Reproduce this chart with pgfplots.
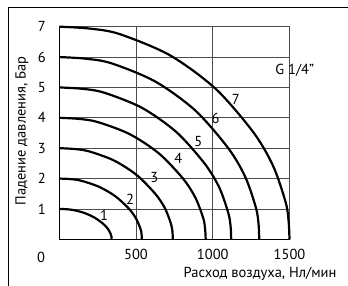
\documentclass[border=0pt]{standalone}
\usepackage{pgfplots}
\pgfplotsset{compat=1.18}
\usepackage{fontspec}
\setmainfont{PT Sans}
\begin{document}
\begin{tikzpicture}[font=\fontsize{14.5}{17}\selectfont]
\path[use as bounding box] (0,0) rectangle (348pt,286pt);
\draw[line width=1.1pt,black] (8.3pt,0pt) -- (8.3pt,278.7pt) -- (348pt,278.7pt);
\begin{axis}[
  at={(59.3pt,46.7pt)}, anchor=south west,
  scale only axis, width=230.2pt, height=212.6pt,
  xmin=0, xmax=1500, ymin=0, ymax=7,
  enlargelimits=false,
  axis lines=left,
  axis line style={-, line width=1.2pt, black},
  xtick={500,1000,1500}, ytick={1,2,3,4,5,6,7},
  major tick length=0pt,
  grid=major,
  major grid style={line width=0.7pt, black!70},
  /pgf/number format/assume math mode=true,
  /pgf/number format/1000 sep={},
  xticklabel style={yshift=-6.6pt},
  yticklabel style={xshift=-10pt},
  xlabel={Расход воздуха, Нл/мин},
  ylabel={Падение давления, Бар},
  x label style={at={(axis description cs:1.219,-0.163)}, anchor=east},
  y label style={at={(axis description cs:-0.162,0.51)}, anchor=center, rotate=0},
  clip=false,
]
\addplot[smooth, line width=2.2pt, black] coordinates {(0,1) (44,0.991) (89,0.966) (164,0.866) (232,0.707) (288,0.5) (317,0.342) (335,0.174) (340,0.087) (341,0)};
\addplot[smooth, line width=2.2pt, black] coordinates {(0,2) (70,1.983) (140,1.932) (258,1.732) (366,1.414) (455,1.0) (500,0.684) (529,0.348) (536,0.174) (538,0)};
\addplot[smooth, line width=2.2pt, black] coordinates {(0,3) (96,2.974) (192,2.898) (355,2.598) (503,2.121) (625,1.5) (688,1.026) (727,0.522) (737,0.262) (740,0)};
\addplot[smooth, line width=2.2pt, black] coordinates {(0,4) (124,3.966) (248,3.864) (458,3.464) (649,2.828) (806,2.0) (887,1.368) (938,0.696) (950,0.349) (954,0)};
\addplot[smooth, line width=2.2pt, black] coordinates {(0,5) (146,4.957) (291,4.83) (538,4.33) (762,3.535) (946,2.5) (1042,1.71) (1101,0.87) (1116,0.436) (1120,0)};
\addplot[smooth, line width=2.2pt, black] coordinates {(0,6) (169,5.948) (339,5.796) (625,5.196) (886,4.242) (1101,3.0) (1212,2.052) (1281,1.044) (1298,0.523) (1303,0)};
\addplot[smooth, line width=2.2pt, black] coordinates {(0,7) (195,6.94) (390,6.762) (720,6.062) (1020,4.949) (1268,3.5) (1395,2.394) (1475,1.218) (1494,0.61) (1500,0)};
\node at (axis cs:291,0.78) {1};
\node at (axis cs:461,1.33) {2};
\node at (axis cs:619,2.02) {3};
\node at (axis cs:776,2.66) {4};
\node at (axis cs:906,3.22) {5};
\node at (axis cs:1019,3.99) {6};
\node at (axis cs:1151,4.6) {7};
\node[anchor=west] at (axis cs:1385,5.56) {G 1/4”};
\node[xshift=-18.3pt, yshift=-17.7pt] at (axis cs:0,0) {0};
\end{axis}
\end{tikzpicture}
\end{document}
